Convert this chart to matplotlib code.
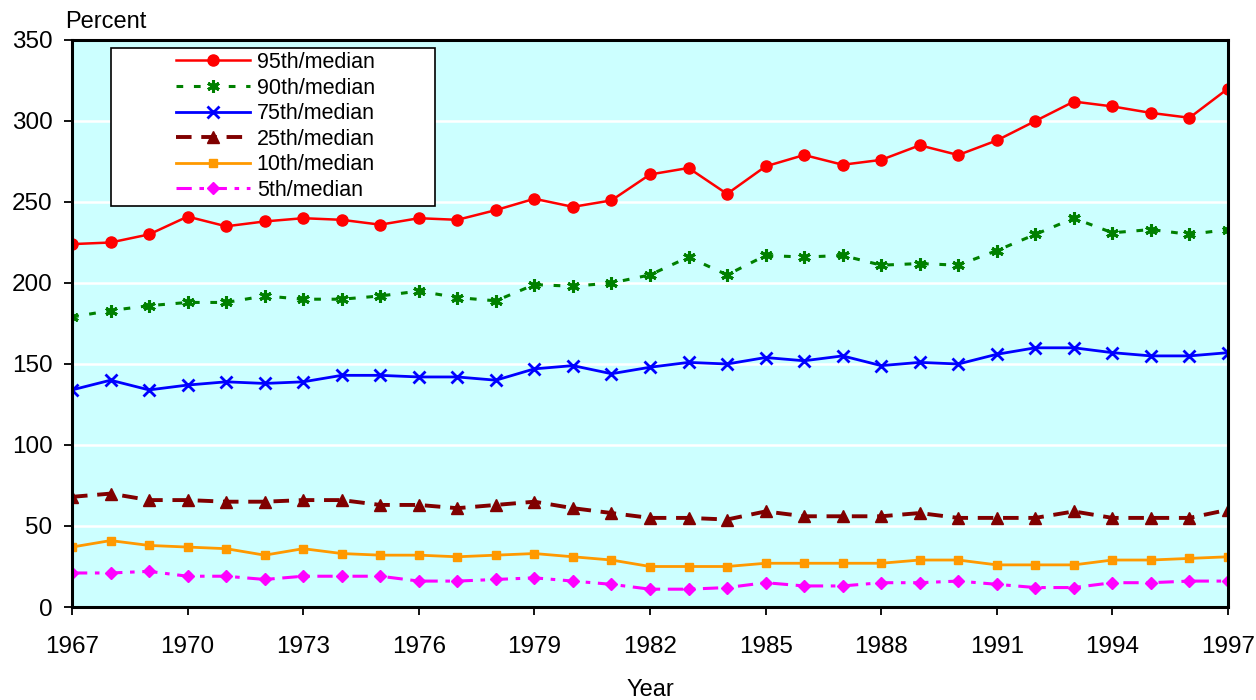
import matplotlib
matplotlib.use("Agg")
import matplotlib.pyplot as plt
from matplotlib.patches import Rectangle

plt.rcParams['font.family'] = ['Liberation Sans', 'DejaVu Sans']

years = list(range(1967, 1998))
p95 = [224, 225, 230, 241, 235, 238, 240, 239, 236, 240, 239, 245, 252, 247, 251,
       267, 271, 255, 272, 279, 273, 276, 285, 279, 288, 300, 312, 309, 305, 302, 320]
p90 = [179, 183, 186, 188, 188, 192, 190, 190, 192, 195, 191, 189, 199, 198, 200,
       205, 216, 205, 217, 216, 217, 211, 212, 211, 220, 230, 240, 231, 233, 230, 233]
p75 = [134, 140, 134, 137, 139, 138, 139, 143, 143, 142, 142, 140, 147, 149, 144,
       148, 151, 150, 154, 152, 155, 149, 151, 150, 156, 160, 160, 157, 155, 155, 157]
p25 = [68, 70, 66, 66, 65, 65, 66, 66, 63, 63, 61, 63, 65, 61, 58,
       55, 55, 54, 59, 56, 56, 56, 58, 55, 55, 55, 59, 55, 55, 55, 60]
p10 = [37, 41, 38, 37, 36, 32, 36, 33, 32, 32, 31, 32, 33, 31, 29,
       25, 25, 25, 27, 27, 27, 27, 29, 29, 26, 26, 26, 29, 29, 30, 31]
p5 = [21, 21, 22, 19, 19, 17, 19, 19, 19, 16, 16, 17, 18, 16, 14,
      11, 11, 12, 15, 13, 13, 15, 15, 16, 14, 12, 12, 15, 15, 16, 16]

labels = ["95th/median", "90th/median", "75th/median",
          "25th/median", "10th/median", "5th/median"]
xtick_years = list(range(1967, 1998, 3))
yticks = [0, 50, 100, 150, 200, 250, 300, 350]

W, H = 1256, 700
fig = plt.figure(figsize=(W/100, H/100), dpi=100)
L, R, T, B = 72, 1228, 40, 607
ax = fig.add_axes([L/W, 1-B/H, (R-L)/W, (B-T)/H])
ax.set_facecolor('#CCFFFF')
ax.set_axisbelow(True)
ax.grid(axis='y', color='white', linewidth=1.8)

ax.plot(years, p95, color='#FF0000', lw=1.8, marker='o', ms=8, label=labels[0])
ax.plot(years, p90, color='#008000', lw=2.2, linestyle=(0, (2.2, 3.5)),
        marker=(6, 2, 0), ms=9, mew=2.2, label=labels[1])
ax.plot(years, p75, color='#0000FF', lw=2, marker='x', ms=8, mew=2, label=labels[2])
ax.plot(years, p25, color='#800000', lw=2.8, linestyle=(0, (4, 2.5)),
        marker='^', ms=8.5, label=labels[3])
ax.plot(years, p10, color='#FF9900', lw=2, marker='s', ms=5.5, label=labels[4])
ax.plot(years, p5, color='#FF00FF', lw=2.2, linestyle=(0, (5, 2.5, 1.5, 2.5)),
        marker='D', ms=6.5, label=labels[5])

ax.set_xlim(1967, 1997)
ax.set_ylim(0, 350)
ax.set_xticks(xtick_years)
ax.set_yticks(yticks)
ax.tick_params(axis='both', labelsize=17.5, direction='out', length=6, width=1.3, colors='black')
ax.tick_params(axis='x', pad=15)
ax.tick_params(axis='y', pad=8)

for s in ['left', 'bottom', 'top', 'right']:
    ax.spines[s].set_linewidth(2.2)
    ax.spines[s].set_color('black')

fig.text(65/W, 1-21.5/H, "Percent", fontsize=17, ha='left', va='center')
fig.text(650/W, 1-690/H, "Year", fontsize=17, ha='center', va='center')

# legend box
lx0, lx1, ly0, ly1 = 110.5, 435, 48.5, 206.5
box = Rectangle(((lx0-L)/(R-L), 1-(ly1-T)/(B-T)), (lx1-lx0)/(R-L), (ly1-ly0)/(B-T),
                transform=ax.transAxes, facecolor='white', edgecolor='black',
                linewidth=1.2, zorder=4)
ax.add_patch(box)
leg = ax.legend(loc='upper left', bbox_to_anchor=((176-L)/(R-L), 1-(52-T)/(B-T)),
                fontsize=15.5, frameon=False, handlelength=3.45, handletextpad=0.3,
                labelspacing=0.21, borderpad=0, borderaxespad=0)
leg.set_zorder(5)

fig.savefig("out.png", dpi=100)
